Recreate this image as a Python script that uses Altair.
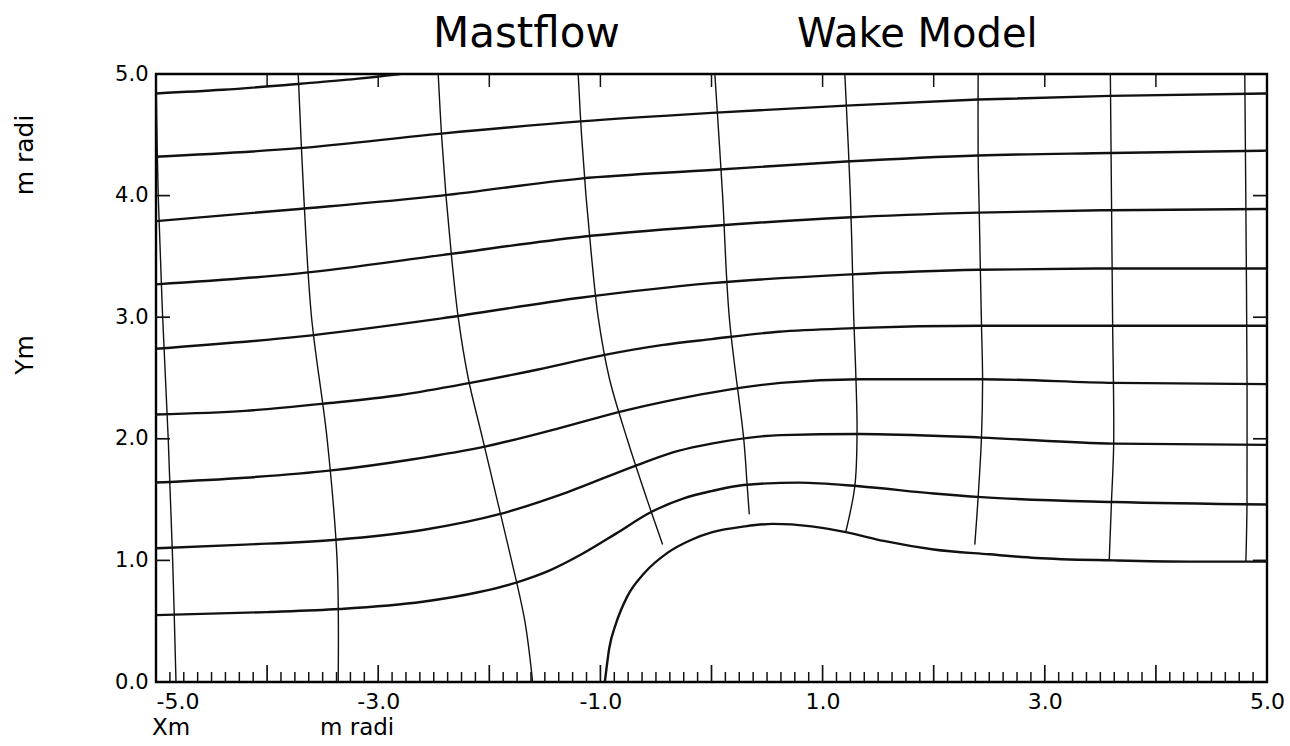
import altair as alt
import pandas as pd

# ---- streamlines (x, y in mast radii), ordered upstream -> downstream ----
s9_x = [-5.0, -4.4, -3.7, -3.2, -2.8]
s9_y = [4.84, 4.87, 4.92, 4.96, 5.0]

s8_x = [-5.0, -3.71, -2.43, -1.18, 0.0, 1.21, 2.40, 3.59, 5.0]
s8_y = [4.32, 4.39, 4.51, 4.61, 4.68, 4.74, 4.79, 4.82, 4.84]

s7_x = [-5.0, -3.71, -2.43, -1.18, 0.0, 1.21, 2.40, 3.59, 5.0]
s7_y = [3.79, 3.89, 4.00, 4.14, 4.21, 4.28, 4.33, 4.35, 4.37]

s6_x = [-5.0, -3.71, -2.43, -1.18, 0.0, 1.21, 2.40, 3.59, 5.0]
s6_y = [3.27, 3.36, 3.51, 3.66, 3.75, 3.82, 3.86, 3.88, 3.89]

s5_x = [-5.0, -3.71, -2.43, -1.18, 0.0, 1.21, 2.40, 3.59, 5.0]
s5_y = [2.74, 2.84, 2.99, 3.16, 3.28, 3.35, 3.39, 3.40, 3.40]

s4_x = [-5.0, -4.2, -3.48, -2.8, -2.17, -1.56, -0.96, -0.45, 0.0, 0.6, 1.28, 2.43, 3.60, 5.0]
s4_y = [2.20, 2.23, 2.29, 2.36, 2.46, 2.57, 2.69, 2.77, 2.82, 2.88, 2.91, 2.93, 2.93, 2.93]

s3_x = [-5.0, -4.2, -3.42, -2.7, -2.02, -1.4, -0.79, -0.4, 0.0, 0.62, 1.33, 2.43, 3.62, 5.0]
s3_y = [1.64, 1.68, 1.74, 1.83, 1.94, 2.08, 2.23, 2.31, 2.38, 2.46, 2.49, 2.49, 2.46, 2.45]

s2_x = [-5.0, -4.2, -3.38, -2.6, -1.91, -1.3, -0.68, -0.3, 0.0, 0.62, 1.33, 2.43, 3.62, 5.0]
s2_y = [1.10, 1.13, 1.17, 1.25, 1.38, 1.56, 1.78, 1.90, 1.96, 2.03, 2.04, 2.01, 1.96, 1.95]

s1_x = [-5.0, -4.0, -3.35, -2.6, -2.09, -1.75, -1.45, -1.17, -0.86, -0.56, -0.25, 0.0,
        0.29, 0.79, 1.33, 2.0, 2.43, 3.62, 5.0]
s1_y = [0.55, 0.575, 0.60, 0.66, 0.74, 0.82, 0.92, 1.05, 1.22, 1.39, 1.51, 1.57,
        1.62, 1.64, 1.61, 1.55, 1.52, 1.48, 1.46]

# mast surface and wake boundary
body_x = [-0.96, -0.92, -0.86, -0.76, -0.60, -0.40, -0.18, 0.0, 0.30, 0.55, 0.90, 1.22,
          1.55, 2.0, 2.5, 2.92, 3.62, 4.3, 5.0]
body_y = [0.0, 0.28, 0.48, 0.70, 0.90, 1.06, 1.17, 1.23, 1.28, 1.30, 1.28, 1.23,
          1.16, 1.09, 1.05, 1.02, 1.00, 0.99, 0.99]

# ---- cross lines (x, y), from the top of the field downwards ----
c1_x = [-5.0, -4.98, -4.94, -4.89, -4.85, -4.82]
c1_y = [5.0, 4.0, 3.0, 2.0, 1.0, 0.0]

c2_x = [-3.72, -3.67, -3.60, -3.46, -3.37, -3.36]
c2_y = [5.0, 4.0, 3.0, 2.0, 1.0, 0.0]

c3_x = [-2.46, -2.43, -2.39, -2.34, -2.28, -2.19, -2.06, -1.93, -1.80, -1.68, -1.61]
c3_y = [5.0, 4.5, 4.0, 3.5, 3.0, 2.5, 2.0, 1.5, 1.0, 0.5, 0.0]

c4_x = [-1.20, -1.17, -1.13, -1.08, -1.02, -0.92, -0.76, -0.58, -0.44]
c4_y = [5.0, 4.5, 4.0, 3.5, 3.0, 2.5, 2.0, 1.5, 1.13]

c5_x = [0.03, 0.10, 0.16, 0.29, 0.32, 0.34]
c5_y = [5.0, 4.0, 3.0, 2.0, 1.63, 1.38]

c6_x = [1.20, 1.25, 1.28, 1.30, 1.31, 1.29, 1.21]
c6_y = [5.0, 4.0, 3.0, 2.5, 2.04, 1.61, 1.24]

c7_x = [2.40, 2.40, 2.41, 2.42, 2.43, 2.44, 2.43, 2.40, 2.37]
c7_y = [5.0, 4.33, 3.86, 3.39, 2.94, 2.49, 2.01, 1.52, 1.13]

c8_x = [3.59, 3.60, 3.61, 3.62, 3.60, 3.58]
c8_y = [5.0, 4.0, 3.0, 1.96, 1.48, 1.0]

c9_x = [4.80, 4.81, 4.82, 4.82, 4.81]
c9_y = [5.0, 3.89, 2.50, 1.46, 0.99]

# ---- axis graduations ----
x_labels = [-5, -3, -1, 1, 3, 5]
y_labels = [0, 1, 2, 3, 4, 5]
x_major = [-4, -3, -2, -1, 0, 1, 2, 3, 4]
x_minor = [k / 8 for k in range(-39, 40) if k % 8 != 0]
y_major = [1, 2, 3, 4]


def table(lines):
    rows = []
    for name, (xs, ys) in lines.items():
        for i, (xv, yv) in enumerate(zip(xs, ys)):
            rows.append({"line": name, "i": i, "x": xv, "y": yv})
    return pd.DataFrame(rows)


streams = table({
    "s1": (s1_x, s1_y), "s2": (s2_x, s2_y), "s3": (s3_x, s3_y),
    "s4": (s4_x, s4_y), "s5": (s5_x, s5_y), "s6": (s6_x, s6_y),
    "s7": (s7_x, s7_y), "s8": (s8_x, s8_y), "s9": (s9_x, s9_y),
    "body": (body_x, body_y),
})
crosses = table({
    "c1": (c1_x, c1_y), "c2": (c2_x, c2_y), "c3": (c3_x, c3_y),
    "c4": (c4_x, c4_y), "c5": (c5_x, c5_y), "c6": (c6_x, c6_y),
    "c7": (c7_x, c7_y), "c8": (c8_x, c8_y), "c9": (c9_x, c9_y),
})

W, H = 1111, 608
FONT = "DejaVu Sans"
INK = "#111111"

xs = alt.Scale(domain=[-5, 5], nice=False, zero=False)
ys = alt.Scale(domain=[0, 5], nice=False, zero=False)

# plain hyphen for negative numbers
num_label = "(datum.value < 0 ? '-' : '') + format(abs(datum.value), '.1f')"

x_axis = alt.Axis(
    values=x_labels, labelExpr=num_label, title=None, grid=False, domain=False,
    ticks=False, tickSize=0, labelPadding=9, labelFont=FONT, labelFontSize=22,
    labelColor="black", labelOverlap=False, labelFlush=False,
    labelAlign=alt.ExprRef(expr="datum.value <= -5 ? 'left' : 'center'"),
)
y_axis = alt.Axis(
    values=y_labels, labelExpr=num_label, title=None, grid=False, domain=False,
    ticks=False, tickSize=0, labelPadding=8, labelFont=FONT, labelFontSize=21,
    labelColor="black", labelOverlap=False, labelFlush=False,
)

X = alt.X("x:Q", scale=xs, axis=x_axis)
Y = alt.Y("y:Q", scale=ys, axis=y_axis)

stream_layer = alt.Chart(streams).mark_line(
    color=INK, strokeWidth=2.4, interpolate="monotone", clip=True
).encode(x=X, y=Y, detail="line:N", order="i:Q")

cross_layer = alt.Chart(crosses).mark_line(
    color=INK, strokeWidth=1.4, interpolate="catmull-rom", clip=True
).encode(x=X, y=Y, detail="line:N", order="i:Q")

# inward-pointing tick marks on all four sides of the frame
bottom_minor = alt.Chart(pd.DataFrame({"x": x_minor})).mark_rule(
    color=INK, strokeWidth=1.5
).encode(x=X, y=alt.value(H), y2=alt.value(H - 10))

bottom_major = alt.Chart(pd.DataFrame({"x": x_major})).mark_rule(
    color=INK, strokeWidth=1.7
).encode(x=X, y=alt.value(H), y2=alt.value(H - 17))

top_major = alt.Chart(pd.DataFrame({"x": x_major})).mark_rule(
    color=INK, strokeWidth=1.5
).encode(x=X, y=alt.value(0), y2=alt.value(13))

left_major = alt.Chart(pd.DataFrame({"y": y_major})).mark_rule(
    color=INK, strokeWidth=1.7
).encode(y=Y, x=alt.value(0), x2=alt.value(14))

right_major = alt.Chart(pd.DataFrame({"y": y_major})).mark_rule(
    color=INK, strokeWidth=1.7
).encode(y=Y, x=alt.value(W), x2=alt.value(W - 14))


def label(text, x, y, size, angle=0, align="left"):
    return alt.Chart(pd.DataFrame({"t": [text]})).mark_text(
        font=FONT, fontSize=size, color="black", align=align,
        baseline="alphabetic", angle=angle,
    ).encode(text="t:N", x=alt.value(x), y=alt.value(y))


texts = [
    label("Mastflow", 277, -27, 42),
    label("Wake Model", 641, -27, 40),
    label("Xm", -4, 661, 23),
    label("m radi", 164, 661, 23),
    label("m radi", -123, 81, 25, angle=270, align="center"),
    label("Ym", -123, 281, 25, angle=270, align="center"),
]

chart = alt.layer(
    cross_layer, stream_layer,
    bottom_minor, bottom_major, top_major, left_major, right_major,
    *texts,
).properties(
    width=W, height=H,
    autosize=alt.AutoSizeParams(type="none"),
    padding={"left": 156, "top": 74, "right": 23, "bottom": 64},
    background="white",
).configure_view(
    stroke="black", strokeWidth=2.4
)

chart.save("out.html", embed_options={"renderer": "svg", "actions": False})
